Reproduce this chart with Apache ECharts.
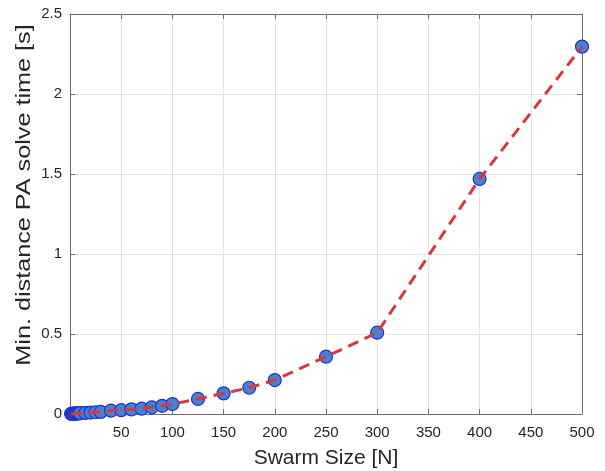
<!DOCTYPE html>
<html>
<head>
<meta charset="utf-8">
<script src="https://cdn.jsdelivr.net/npm/echarts@6/dist/echarts.min.js"></script>
<style>
  html, body { margin: 0; padding: 0; background: #fff; }
  #main { width: 605px; height: 471px; }
</style>
</head>
<body>
<div id="main"></div>
<script>
let swarmSize = [1, 2, 3, 4, 5, 6, 7, 8, 9, 10, 15, 20, 25, 30, 40, 50, 60, 70, 80, 90,
                 100, 125, 150, 175, 200, 250, 300, 400, 500];
let solveTime = [0.001, 0.001, 0.002, 0.002, 0.003, 0.003, 0.004, 0.004, 0.005, 0.005,
                 0.007, 0.009, 0.011, 0.013, 0.021, 0.024, 0.029, 0.033, 0.042, 0.051,
                 0.062, 0.094, 0.129, 0.164, 0.212, 0.358, 0.508, 1.469, 2.296];
let xTicks = [0, 50, 100, 150, 200, 250, 300, 350, 400, 450, 500];
let yTicks = [0, 0.5, 1, 1.5, 2, 2.5];
let yTitle = 'Min. distance PA solve time [s]';

let points = swarmSize.map(function (n, i) { return [n, solveTime[i]]; });

let mychart = echarts.init(document.getElementById('main'));

let font = 'Liberation Sans, Arial, sans-serif';
let boxColor = '#6e6e6e';
let textColor = '#262626';

function frameAxis(pos) {
    return {
        position: pos,
        axisLine: { show: true, onZero: false, lineStyle: { color: boxColor, width: 1 } },
        axisTick: { show: true, inside: true, length: 5, lineStyle: { color: boxColor } },
        axisLabel: { show: false },
        splitLine: { show: false }
    };
}

let option = {
    animation: false,
    backgroundColor: '#ffffff',
    grid: { left: 70, top: 14, right: 23, bottom: 57, outerBoundsMode: 'none' },
    // the source figure was stretched vertically, so the y title is drawn stretched too
    graphic: [
        {
            type: 'text',
            x: 24,
            y: 195,
            rotation: Math.PI / 2,
            scaleX: 1.26,
            style: {
                text: yTitle,
                fontFamily: font,
                fontSize: 20,
                fill: textColor,
                align: 'center',
                verticalAlign: 'middle'
            }
        }
    ],
    xAxis: [
        {
            type: 'value',
            min: xTicks[0],
            max: xTicks[xTicks.length - 1],
            interval: 50,
            name: 'Swarm Size [N]',
            nameLocation: 'middle',
            nameGap: 34,
            nameTextStyle: { fontFamily: font, fontSize: 21, color: textColor },
            axisLine: { show: true, onZero: false, lineStyle: { color: boxColor, width: 1 } },
            axisTick: { show: true, inside: true, length: 5, lineStyle: { color: boxColor } },
            axisLabel: {
                fontFamily: font, fontSize: 15, color: textColor, margin: 11,
                formatter: function (v) { return v === 0 ? '' : String(v); }
            },
            splitLine: { show: true, lineStyle: { color: '#e3e3e3', width: 1 } }
        },
        Object.assign({ type: 'value', min: xTicks[0], max: xTicks[xTicks.length - 1], interval: 50 }, frameAxis('top'))
    ],
    yAxis: [
        {
            type: 'value',
            min: yTicks[0],
            max: yTicks[yTicks.length - 1],
            interval: 0.5,
            axisLine: { show: true, onZero: false, lineStyle: { color: boxColor, width: 1 } },
            axisTick: { show: true, inside: true, length: 5, lineStyle: { color: boxColor } },
            axisLabel: { fontFamily: font, fontSize: 15, color: textColor, margin: 8 },
            splitLine: { show: true, lineStyle: { color: '#e3e3e3', width: 1 } }
        },
        Object.assign({ type: 'value', min: yTicks[0], max: yTicks[yTicks.length - 1], interval: 0.5 }, frameAxis('right'))
    ],
    series: [
        {
            name: 'markers',
            type: 'scatter',
            data: points,
            symbol: 'circle',
            symbolSize: 13,
            itemStyle: { color: '#4b7fcf', borderColor: '#1f35c8', borderWidth: 1.2, opacity: 1 },
            z: 2
        },
        {
            name: 'trend',
            type: 'line',
            data: points,
            showSymbol: false,
            symbol: 'none',
            lineStyle: { color: '#d9363e', width: 3, type: [11, 7] },
            z: 3
        }
    ]
};
mychart.setOption(option);
</script>
</body>
</html>
